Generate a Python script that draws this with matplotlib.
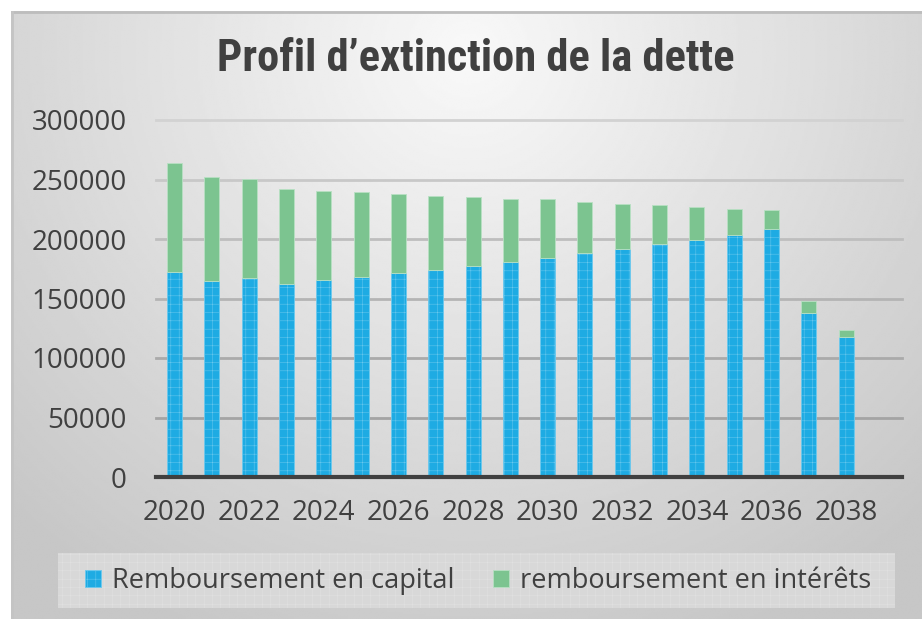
import matplotlib
matplotlib.use('Agg')
import matplotlib.pyplot as plt
from matplotlib import font_manager
from matplotlib.patches import Rectangle
import numpy as np

years = list(range(2020, 2040))
capital = [172000, 165000, 167300, 162500, 165300, 168400, 171200, 174200, 177300, 180700,
           184300, 188000, 191900, 195900, 199500, 203700, 208800, 138000, 117800, 0]
total = [264000, 252300, 250600, 242200, 240500, 239600, 238000, 236300, 235100, 233700,
         233400, 231200, 229500, 228400, 227000, 225300, 224500, 148100, 123500, 0]
interets = [t - c for t, c in zip(total, capital)]
tick_years = list(range(2020, 2039, 2))
y_ticks = list(range(0, 300001, 50000))

plt.rcParams['font.family'] = ['Open Sans', 'DejaVu Sans']
plt.rcParams['hatch.linewidth'] = 0.35

installed = {f.name for f in font_manager.fontManager.ttflist}
title_font = 'Liberation Sans'
title_size = 27
for name in ['Liberation Sans Narrow', 'Roboto Condensed', 'Open Sans Condensed']:
    if name in installed:
        title_font = name
        title_size = 32
        break

W, H = 922, 619
fig = plt.figure(figsize=(W / 100, H / 100), dpi=100)
fig.patch.set_facecolor('white')

# fond en dégradé
bg = fig.add_axes([11 / W, 0, (W - 11) / W, (H - 11) / H])
yy, xx = np.mgrid[0:300, 0:450]
cx, cy = 225, 20
d = np.sqrt(((xx - cx) / 330.0) ** 2 + ((yy - cy) / 320.0) ** 2)
shade = np.clip(0.975 - 0.2 * d, 0.78, 0.975)
bg.imshow(shade, cmap='gray', vmin=0, vmax=1, aspect='auto', extent=[0, 1, 0, 1],
          origin='upper', interpolation='bilinear')
bg.set_xlim(0, 1)
bg.set_ylim(0, 1)
bg.axis('off')
bg.plot([0, 1], [0.998, 0.998], color='#bdbdbd', lw=2, transform=bg.transAxes)
bg.plot([0.001, 0.001], [0, 1], color='#c4c4c4', lw=2, transform=bg.transAxes)

# cadre de la légende
fig.patches.append(Rectangle((58 / W, (H - 608) / H), (895 - 58) / W, 55 / H,
                             transform=fig.transFigure, facecolor='#d8d8d8',
                             edgecolor='#e2e2e2', hatch='++', lw=0, zorder=1))

ax = fig.add_axes([156 / W, (H - 477) / H, (902 - 156) / W, (477 - 120) / H])
ax.patch.set_alpha(0)
x = np.arange(len(years))
b1 = ax.bar(x, capital, width=0.4, color='#1eabe3', edgecolor='#6cc9ee', hatch='++',
            lw=0.6, zorder=3, label='Remboursement en capital')
b2 = ax.bar(x, interets, width=0.4, bottom=capital, color='#7cc490', edgecolor='#b8e0c3',
            lw=0.6, zorder=3, label='remboursement en intérêts')

ax.set_xlim(-0.5, len(years) - 0.5)
ax.set_ylim(0, 300000)
ax.set_yticks(y_ticks)
ax.set_yticklabels([str(v) for v in y_ticks])
ax.set_xticks([years.index(yv) for yv in tick_years])
ax.set_xticklabels([str(yv) for yv in tick_years])
grid_cols = ['#a4a4a4', '#aaaaaa', '#b4b4b4', '#bebebe', '#c8c8c8', '#d2d2d2']
for v, c in zip(y_ticks[1:], grid_cols):
    ax.axhline(v, color=c, lw=2, zorder=1, clip_on=False)
for s in ['top', 'right', 'left']:
    ax.spines[s].set_visible(False)
ax.spines['bottom'].set_color('#404040')
ax.spines['bottom'].set_linewidth(3)
ax.spines['bottom'].set_zorder(4)
ax.tick_params(axis='y', length=0, pad=21, labelsize=20, labelcolor='#404040')
ax.tick_params(axis='x', length=0, pad=16, labelsize=20, labelcolor='#404040')

fig.text(476 / W, 1 - 59 / H, 'Profil d\u2019extinction de la dette', ha='center', va='center',
         fontsize=title_size, fontweight='bold', color='#404040',
         family=[title_font, 'DejaVu Sans'])

leg = fig.legend(handles=[b1, b2], loc='center', ncol=2,
                 bbox_to_anchor=(478 / W, (H - 581) / H), frameon=False,
                 prop={'size': 19.5},
                 handlelength=0.6, handleheight=0.6, handletextpad=0.42,
                 columnspacing=1.4, borderaxespad=0)
for t in leg.get_texts():
    t.set_color('#404040')

fig.savefig('out.png', dpi=100)
